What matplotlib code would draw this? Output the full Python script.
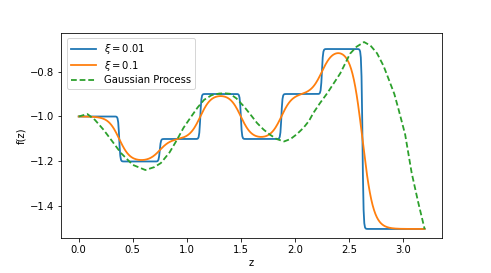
import numpy as np
import matplotlib
matplotlib.use("Agg")
import matplotlib.pyplot as plt

# Step function data
levels = [-1.0, -1.2, -1.1, -0.9, -1.1, -0.9, -0.7, -1.5]
breakpoints = [0.375, 0.75, 1.125, 1.5, 1.875, 2.25, 2.625]
z_start, z_end = 0.0, 3.2
xis = [0.01, 0.1]
xi_labels = [r"$\xi=0.01$", r"$\xi=0.1$"]

# Gaussian process curve
gp_z = [0.0, 0.08, 0.15, 0.23, 0.31, 0.39, 0.5, 0.617, 0.7, 0.76, 0.84, 0.91,
        0.97, 1.03, 1.1, 1.16, 1.23, 1.3, 1.35, 1.4, 1.46, 1.53, 1.6, 1.65,
        1.71, 1.77, 1.83, 1.9, 1.96, 2.02, 2.08, 2.13, 2.17, 2.23, 2.3, 2.36,
        2.42, 2.47, 2.51, 2.57, 2.64, 2.7, 2.76, 2.82, 2.87, 2.92, 2.96, 3.02,
        3.08, 3.14, 3.2]
gp_f = [-1.0, -0.989, -1.015, -1.059, -1.11, -1.162, -1.215, -1.238, -1.225,
        -1.207, -1.16, -1.103, -1.05, -1.008, -0.96, -0.926, -0.905, -0.898,
        -0.897, -0.899, -0.92, -0.956, -0.998, -1.029, -1.058, -1.081, -1.1,
        -1.111, -1.1, -1.078, -1.05, -1.02, -0.985, -0.942, -0.896, -0.852,
        -0.808, -0.76, -0.721, -0.69, -0.669, -0.685, -0.719, -0.775, -0.837,
        -0.9, -0.97, -1.08, -1.25, -1.38, -1.5]

def smooth_steps(z, xi):
    f = np.full_like(z, levels[0])
    for b, lo, hi in zip(breakpoints, levels[:-1], levels[1:]):
        f += (hi - lo) * 0.5 * (1 + np.tanh((z - b) / xi))
    return f

z = np.linspace(z_start, z_end, 500)

plt.rcParams["font.size"] = 10
fig = plt.figure(figsize=(491/72, 273/72), dpi=72)
ax = fig.add_axes([61.4/491, 34.7/273, (441.9-61.4)/491, (238.3-32.7)/273])

for xi, lab, c in zip(xis, xi_labels, ["#1f77b4", "#ff7f0e"]):
    ax.plot(z, smooth_steps(z, xi), color=c, lw=1.8, label=lab)
ax.plot(gp_z, gp_f, "--", color="#2ca02c", lw=1.8, dashes=(3.2, 1.6),
        label="Gaussian Process")

ax.set_xlabel("z", labelpad=3)
ax.set_ylabel("f(z)")
ax.set_xticks([0.0, 0.5, 1.0, 1.5, 2.0, 2.5, 3.0])
ax.set_yticks([-1.4, -1.2, -1.0, -0.8])
ax.legend(loc="upper left", handlelength=2.5, handletextpad=0.8,
          labelspacing=0.25, borderaxespad=0.55)

fig.savefig("out.png", dpi=72)
